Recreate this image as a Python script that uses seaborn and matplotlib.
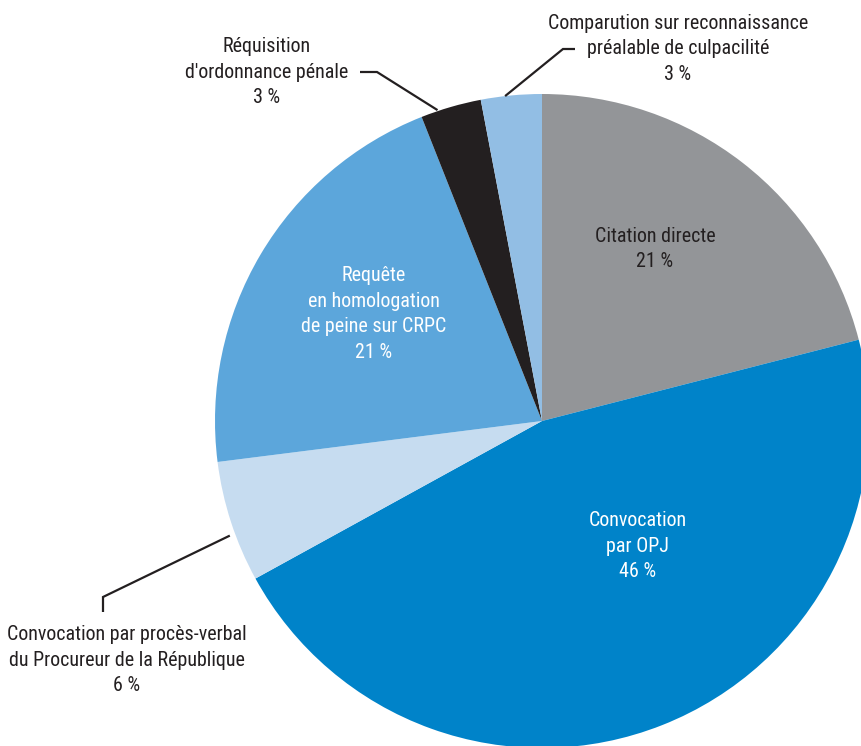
import os
import numpy as np
import matplotlib
matplotlib.use("Agg")
import matplotlib.pyplot as plt
from matplotlib import font_manager as fm
import seaborn as sns

# Répartition des modes de poursuite (en %)
categories = [
    "Citation directe",
    "Convocation\npar OPJ",
    "Convocation par procès-verbal\ndu Procureur de la République",
    "Requête\nen homologation\nde peine sur CRPC",
    "Réquisition\nd'ordonnance pénale",
    "Comparution sur reconnaissance\npréalable de culpacilité",
]
values = [21, 46, 6, 21, 3, 3]
colors = ["#939598", "#0083C9", "#C6DCF0", "#5CA6DB", "#231F20", "#92BEE4"]

sns.set_theme(style="white")
plt.rcParams["font.family"] = ["Liberation Sans", "DejaVu Sans"]


def narrow_font():
    """Find a condensed sans-serif face among the installed fonts."""
    files = {os.path.basename(f.fname).lower(): f.fname for f in fm.fontManager.ttflist}
    wanted = [
        "notosans-condensed.ttf",
        "robotocondensed-regular.ttf",
        "liberationsansnarrow-regular.ttf",
        "opensans-condensedregular.ttf",
        "dejavusanscondensed.ttf",
    ]
    for w in wanted:
        if w in files:
            return fm.FontProperties(fname=files[w])
    for f in fm.fontManager.ttflist:
        n = (f.name + os.path.basename(f.fname)).lower()
        if ("narrow" in n or "condensed" in n) and "bold" not in n and "italic" not in n \
                and "light" not in n and "extra" not in n and "semi" not in n:
            return fm.FontProperties(fname=f.fname)
    return fm.FontProperties(family="Liberation Sans")


font = narrow_font()

W, H = 862, 746
CX, CY, R = 542, 421, 327  # pie centre and radius in pixels


def px(x, y):
    """Pixel position (from top-left) to data coordinates."""
    return (x - CX) / R, (CY - y) / R


fig = plt.figure(figsize=(W / 100, H / 100), dpi=100)
ax = fig.add_axes([0, 0, 1, 1])

wedges, _ = ax.pie(
    values,
    colors=colors,
    startangle=90,
    counterclock=False,
    radius=1.0,
    center=(0, 0),
    wedgeprops=dict(linewidth=0),
)
ax.set_xlim(px(0, 0)[0], px(W, 0)[0])
ax.set_ylim(px(0, H)[1], px(0, 0)[1])
ax.set_aspect("auto")
ax.axis("off")

dark = "#231F20"
fs = 14.4
ls = 1.46


def pct(v):
    return f"{v} %"


def label(xy, text, color):
    tx, ty = px(*xy)
    fp = font.copy()
    fp.set_size(fs)
    ax.text(tx, ty, text, ha="center", va="center", color=color,
            fontproperties=fp, linespacing=ls)


# Labels inside the wedges
inside = {
    0: ((655, 249), dark),
    1: ((638, 546), "white"),
    3: ((374, 314), "white"),
}
for i, (xy, c) in inside.items():
    label(xy, f"{categories[i]}\n{pct(values[i])}", c)


def wedge_angle(i, frac):
    """Angle at a given fraction across wedge i (clockwise from its start)."""
    start = 90 - 360 * sum(values[:i]) / 100
    end = 90 - 360 * sum(values[:i + 1]) / 100
    return np.deg2rad(start + (end - start) * frac)


# Outside labels with leader lines
outside = {
    2: dict(text=(127, 660), path=[(103, 597), (103, 612)], rad=1.017, frac=0.4),
    4: dict(text=(267, 72), path=[(377, 72), (360, 72)], rad=1.003, frac=0.28),
    5: dict(text=(678, 49), path=[(563, 49), (575, 49)], rad=1.0, frac=0.4),
}
for i, o in outside.items():
    a = wedge_angle(i, o["frac"])
    pts = [(o["rad"] * np.cos(a), o["rad"] * np.sin(a))] + [px(*p) for p in o["path"]]
    xs, ys = zip(*pts)
    ax.plot(xs, ys, color=dark, lw=1.6, solid_capstyle="butt", solid_joinstyle="miter")
    label(o["text"], f"{categories[i]}\n{pct(values[i])}", dark)

fig.savefig("out.png", dpi=100)
